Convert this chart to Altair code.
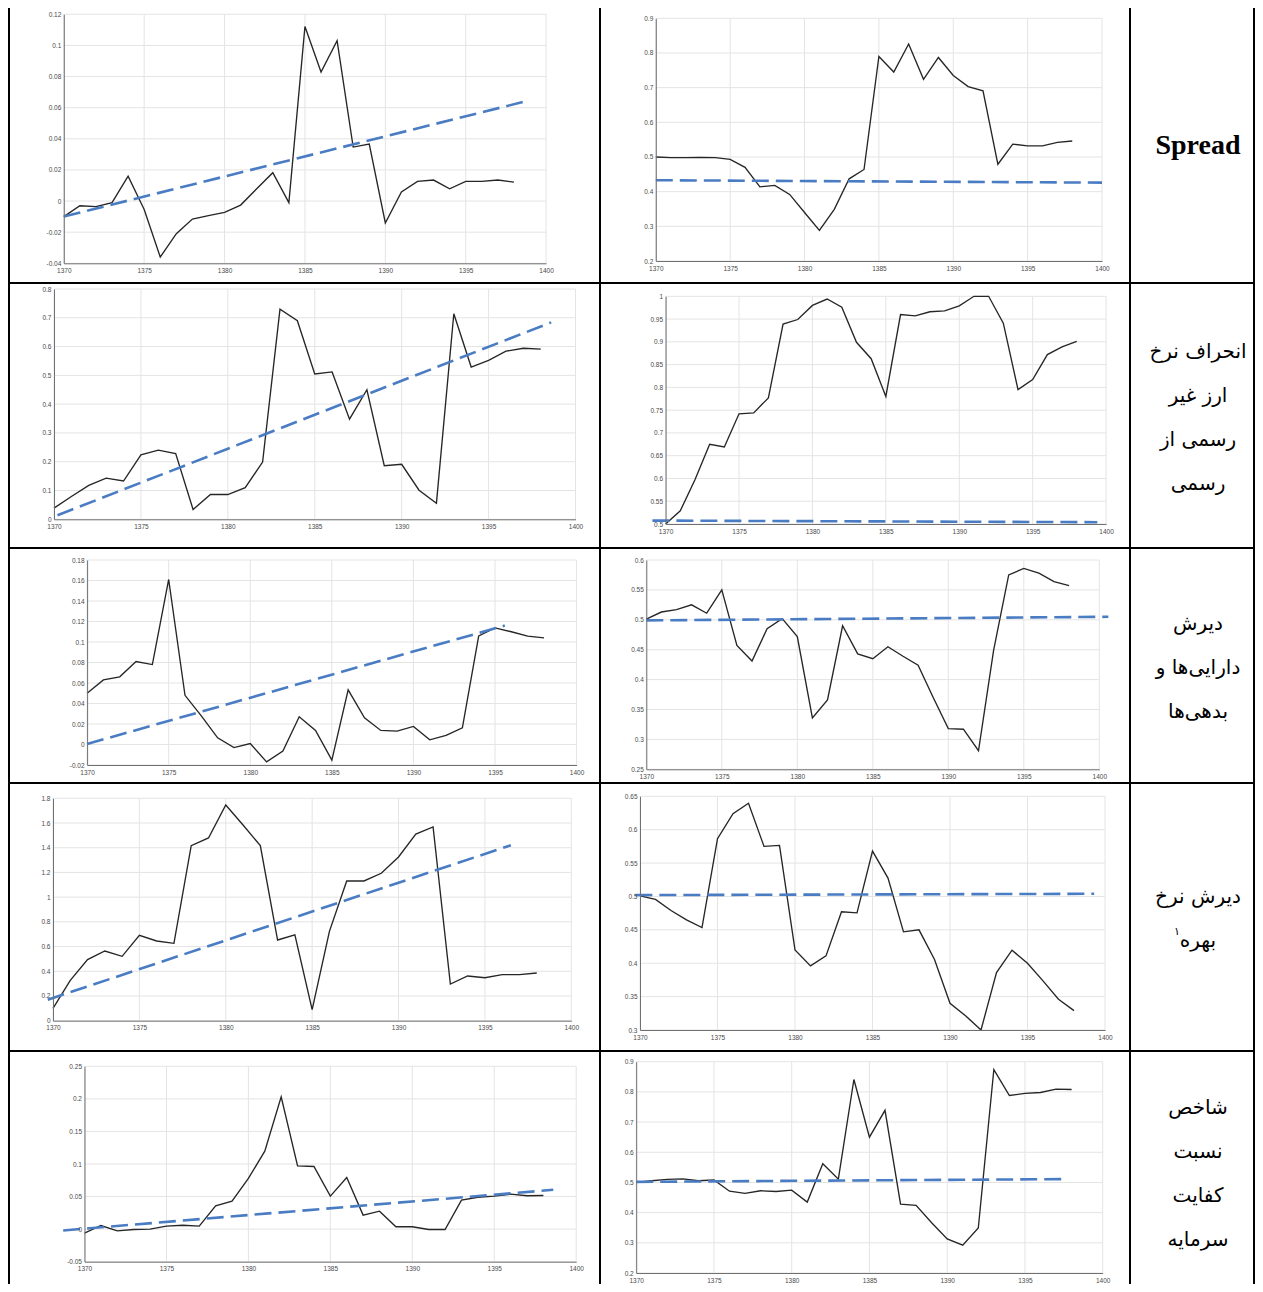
import altair as alt
import pandas as pd

# ---------------- data ----------------
years = [1370, 1371, 1372, 1373, 1374, 1375, 1376, 1377, 1378, 1379,
         1380, 1381, 1382, 1383, 1384, 1385, 1386, 1387, 1388, 1389,
         1390, 1391, 1392, 1393, 1394, 1395, 1396, 1397, 1398]

spread_left = [-0.010, -0.003, -0.0036, -0.001, 0.016, -0.0054, -0.036, -0.021, -0.0116, -0.0094,
               -0.0073, -0.0026, 0.0079, 0.0182, -0.001, 0.1122, 0.0829, 0.103, 0.0347, 0.0366,
               -0.0141, 0.0058, 0.0126, 0.0135, 0.0079, 0.0126, 0.0126, 0.0135, 0.0122]
spread_right = [0.500, 0.498, 0.498, 0.499, 0.498, 0.493, 0.470, 0.414, 0.418, 0.392,
                0.340, 0.288, 0.349, 0.437, 0.464, 0.790, 0.745, 0.826, 0.724, 0.787,
                0.735, 0.703, 0.691, 0.479, 0.537, 0.532, 0.532, 0.542, 0.546]
fx_left = [0.039, 0.079, 0.118, 0.143, 0.133, 0.224, 0.240, 0.228, 0.034, 0.086,
           0.086, 0.110, 0.199, 0.730, 0.690, 0.505, 0.512, 0.348, 0.450, 0.186,
           0.191, 0.101, 0.056, 0.714, 0.529, 0.552, 0.584, 0.594, 0.591]
fx_right = [0.500, 0.529, 0.597, 0.675, 0.669, 0.742, 0.744, 0.777, 0.939, 0.949,
            0.980, 0.994, 0.976, 0.899, 0.863, 0.780, 0.960, 0.957, 0.966, 0.968,
            0.979, 1.000, 1.000, 0.941, 0.795, 0.817, 0.872, 0.889, 0.901]
dur_left = [0.050, 0.063, 0.066, 0.081, 0.078, 0.161, 0.048, 0.028, 0.0065, -0.003,
            0.001, -0.017, -0.0065, 0.027, 0.0137, -0.0153, 0.0533, 0.026, 0.0137, 0.013,
            0.0176, 0.0046, 0.0088, 0.0163, 0.106, 0.1138, 0.110, 0.1057, 0.104]
dur_right = [0.501, 0.513, 0.517, 0.525, 0.511, 0.550, 0.457, 0.431, 0.485, 0.502,
             0.472, 0.336, 0.366, 0.490, 0.443, 0.435, 0.455, 0.439, 0.424, 0.370,
             0.318, 0.317, 0.281, 0.449, 0.575, 0.586, 0.578, 0.564, 0.557]
rate_left = [0.10, 0.327, 0.494, 0.564, 0.521, 0.691, 0.645, 0.626, 1.417, 1.479,
             1.746, 1.584, 1.417, 0.653, 0.694, 0.089, 0.723, 1.131, 1.131, 1.193,
             1.325, 1.511, 1.568, 0.297, 0.362, 0.348, 0.373, 0.373, 0.386]
rate_right = [0.501, 0.4955, 0.479, 0.465, 0.4535, 0.5865, 0.624, 0.6395, 0.575, 0.5765,
              0.420, 0.396, 0.411, 0.477, 0.4755, 0.568, 0.5275, 0.447, 0.450, 0.4055,
              0.340, 0.3215, 0.300, 0.386, 0.4195, 0.400, 0.3735, 0.346, 0.329]
car_left = [-0.006, 0.0056, -0.0026, -0.0005, 0.0, 0.0046, 0.006, 0.0046, 0.0358, 0.043,
            0.0778, 0.1198, 0.203, 0.0972, 0.0962, 0.0507, 0.0793, 0.0215, 0.0276, 0.0036,
            0.0036, -0.0005, -0.0005, 0.0445, 0.049, 0.0507, 0.0537, 0.0512, 0.0517]
car_right = [0.500, 0.5055, 0.510, 0.512, 0.5055, 0.508, 0.471, 0.464, 0.4724, 0.470,
             0.4746, 0.435, 0.562, 0.511, 0.841, 0.650, 0.739, 0.428, 0.424, 0.3665,
             0.313, 0.292, 0.349, 0.874, 0.788, 0.795, 0.798, 0.809, 0.808]

# trend lines (start / end points)
trend_spread_left_x, trend_spread_left_y = [1370.0, 1398.7], [-0.010, 0.064]
trend_spread_right_x, trend_spread_right_y = [1370.0, 1400.0], [0.433, 0.426]
trend_fx_left_x, trend_fx_left_y = [1370.2, 1398.6], [0.014, 0.684]
trend_fx_right_x, trend_fx_right_y = [1369.1, 1399.4], [0.5075, 0.504]
trend_dur_left_x, trend_dur_left_y = [1370.0, 1395.6], [0.0005, 0.116]
trend_dur_right_x, trend_dur_right_y = [1370.0, 1400.6], [0.499, 0.505]
trend_rate_left_x, trend_rate_left_y = [1369.7, 1396.5], [0.17, 1.42]
trend_rate_right_x, trend_rate_right_y = [1369.7, 1399.3], [0.502, 0.504]
trend_car_left_x, trend_car_left_y = [1368.7, 1398.6], [-0.002, 0.0604]
trend_car_right_x, trend_car_right_y = [1370.0, 1397.5], [0.502, 0.511]

x_ticks = [1370, 1375, 1380, 1385, 1390, 1395, 1400]
ticks_spread_left = [-0.04, -0.02, 0, 0.02, 0.04, 0.06, 0.08, 0.1, 0.12]
ticks_spread_right = [0.2, 0.3, 0.4, 0.5, 0.6, 0.7, 0.8, 0.9]
ticks_fx_left = [0, 0.1, 0.2, 0.3, 0.4, 0.5, 0.6, 0.7, 0.8]
ticks_fx_right = [0.5, 0.55, 0.6, 0.65, 0.7, 0.75, 0.8, 0.85, 0.9, 0.95, 1]
ticks_dur_left = [-0.02, 0, 0.02, 0.04, 0.06, 0.08, 0.1, 0.12, 0.14, 0.16, 0.18]
ticks_dur_right = [0.25, 0.3, 0.35, 0.4, 0.45, 0.5, 0.55, 0.6]
ticks_rate_left = [0, 0.2, 0.4, 0.6, 0.8, 1, 1.2, 1.4, 1.6, 1.8]
ticks_rate_right = [0.3, 0.35, 0.4, 0.45, 0.5, 0.55, 0.6, 0.65]
ticks_car_left = [-0.05, 0, 0.05, 0.1, 0.15, 0.2, 0.25]
ticks_car_right = [0.2, 0.3, 0.4, 0.5, 0.6, 0.7, 0.8, 0.9]

row_labels = [
    ["Spread"],
    ["انحراف نرخ", "ارز غیر", "رسمی از", "رسمی"],
    ["دیرش", "دارایی‌ها و", "بدهی‌ها"],
    ["دیرش نرخ", "بهره"],
    ["شاخص", "نسبت", "کفایت", "سرمایه"],
]
footnote_mark = "۱"

# ---------------- layout (page pixel coordinates) ----------------
W, H = 1247, 1276
PAGE = 8
# panel boxes: x of 1370, x of 1400, y of top tick, y of bottom tick
BOXES = [
    (63.8, 546.1, 14.3, 263.3), (655.8, 1102.0, 18.3, 261.0),
    (54.0, 575.5, 289.0, 519.3), (665.6, 1106.1, 296.3, 524.0),
    (87.1, 576.6, 560.0, 765.0), (646.3, 1099.3, 560.0, 769.3),
    (53.0, 571.3, 798.3, 1020.7), (640.0, 1105.0, 796.3, 1030.0),
    (84.5, 576.2, 1066.3, 1261.7), (636.2, 1102.7, 1061.7, 1273.0),
]
COL_X = [9, 600, 1130, 1262]
ROW_Y = [5, 283, 548, 783, 1051, 1292]
LINE_H = 44

LINE_COLOR = "#262626"
BLUE = "#4a7cc4"
GRID = "#e4e4e4"
AXIS = "#707070"
LABEL = "#4a4a4a"
TICK_FONT = "Liberation Sans"
DASH = [17, 7]


def panel(vals, tx, ty, yticks, box):
    x0, x1, yt, yb = (v - PAGE for v in box)
    ydom = [yticks[0], yticks[-1]]
    xs = alt.Scale(domain=[x_ticks[0], x_ticks[-1]], range=[x0, x1], nice=False, zero=False)
    ys = alt.Scale(domain=ydom, range=[yb, yt], nice=False, zero=False)
    vg = pd.DataFrame({"t": x_ticks, "lo": [ydom[0]] * len(x_ticks), "hi": [ydom[1]] * len(x_ticks)})
    hg = pd.DataFrame({"t": yticks, "lo": [x_ticks[0]] * len(yticks), "hi": [x_ticks[-1]] * len(yticks)})
    series = pd.DataFrame({"year": years, "value": vals})
    trend = pd.DataFrame({"year": tx, "value": ty})

    common = dict(grid=False, ticks=False, domainColor=AXIS, domainWidth=1,
                  labelFont=TICK_FONT, labelFontSize=6.5, labelColor=LABEL,
                  labelFlush=False, labelOverlap=False, title=None, zindex=1)
    xaxis = alt.Axis(orient="bottom", offset=yb - H, values=x_ticks, format="d",
                     labelPadding=4, **common)
    yaxis = alt.Axis(orient="left", offset=-x0, values=yticks,
                     labelExpr="'' + datum.value", labelPadding=3, **common)

    vgrid = alt.Chart(vg).mark_rule(color=GRID, strokeWidth=1).encode(
        x=alt.X("t:Q", scale=xs, axis=xaxis),
        y=alt.Y("lo:Q", scale=ys, axis=yaxis), y2="hi:Q")
    hgrid = alt.Chart(hg).mark_rule(color=GRID, strokeWidth=1).encode(
        y=alt.Y("t:Q", scale=ys, axis=yaxis),
        x=alt.X("lo:Q", scale=xs, axis=xaxis), x2="hi:Q")
    line = alt.Chart(series).mark_line(color=LINE_COLOR, strokeWidth=1.35).encode(
        x=alt.X("year:Q", scale=xs, axis=xaxis),
        y=alt.Y("value:Q", scale=ys, axis=yaxis))
    tl = alt.Chart(trend).mark_line(color=BLUE, strokeWidth=2.6, strokeDash=DASH).encode(
        x=alt.X("year:Q", scale=xs, axis=xaxis),
        y=alt.Y("value:Q", scale=ys, axis=yaxis))
    return alt.layer(vgrid, hgrid, line, tl)


panels = [
    panel(spread_left, trend_spread_left_x, trend_spread_left_y, ticks_spread_left, BOXES[0]),
    panel(spread_right, trend_spread_right_x, trend_spread_right_y, ticks_spread_right, BOXES[1]),
    panel(fx_left, trend_fx_left_x, trend_fx_left_y, ticks_fx_left, BOXES[2]),
    panel(fx_right, trend_fx_right_x, trend_fx_right_y, ticks_fx_right, BOXES[3]),
    panel(dur_left, trend_dur_left_x, trend_dur_left_y, ticks_dur_left, BOXES[4]),
    panel(dur_right, trend_dur_right_x, trend_dur_right_y, ticks_dur_right, BOXES[5]),
    panel(rate_left, trend_rate_left_x, trend_rate_left_y, ticks_rate_left, BOXES[6]),
    panel(rate_right, trend_rate_right_x, trend_rate_right_y, ticks_rate_right, BOXES[7]),
    panel(car_left, trend_car_left_x, trend_car_left_y, ticks_car_left, BOXES[8]),
    panel(car_right, trend_car_right_x, trend_car_right_y, ticks_car_right, BOXES[9]),
]

# table borders (the right-most one is kept inside the drawable area)
right_x = min(COL_X[-1] - PAGE, W - 1)
col_lines = [c - PAGE for c in COL_X[:-1]] + [right_x]
segs = []
for c in col_lines:
    segs.append({"x": c, "x2": c, "y": 0, "y2": H})
for ry in ROW_Y[1:-1]:
    segs.append({"x": COL_X[0] - PAGE, "x2": right_x, "y": ry - PAGE, "y2": ry - PAGE})
borders = alt.Chart(pd.DataFrame(segs)).mark_rule(color="black", strokeWidth=2).encode(
    x=alt.X("x:Q", scale=None, axis=None), x2="x2:Q",
    y=alt.Y("y:Q", scale=None, axis=None), y2="y2:Q")

one = pd.DataFrame({"k": [0]})
label_layers = []
cx = (COL_X[2] + COL_X[3]) / 2 + 2 - PAGE
for i, lines in enumerate(row_labels):
    cy = (ROW_Y[i] + ROW_Y[i + 1]) / 2 + 2 - PAGE
    if i == 0:
        mk = alt.Chart(one).mark_text(text=lines[0], font="Liberation Serif", fontWeight="bold",
                                      fontSize=28, align="center", baseline="middle", color="black")
        label_layers.append(mk.encode(x=alt.value(cx), y=alt.value(cy)))
    else:
        first_y = cy - (len(lines) - 1) * LINE_H / 2
        mk = alt.Chart(one).mark_text(text=lines, font="DejaVu Sans", fontSize=20, lineHeight=LINE_H,
                                      align="center", baseline="middle", color="black")
        label_layers.append(mk.encode(x=alt.value(cx), y=alt.value(first_y)))

# footnote marker after "بهره" (row 4, second line)
fn_cy = (ROW_Y[3] + ROW_Y[4]) / 2 + 2 - PAGE + LINE_H / 2 - 9
footnote = alt.Chart(one).mark_text(text=footnote_mark, font="DejaVu Sans", fontSize=11,
                                    align="center", baseline="middle", color="black").encode(
    x=alt.value(cx - 21), y=alt.value(fn_cy))

chart = alt.layer(borders, *label_layers, footnote, *panels).resolve_scale(
    x="independent", y="independent").resolve_axis(x="independent", y="independent").properties(
    width=W, height=H, padding=0, autosize=alt.AutoSizeParams(type="none"),
    background="white").configure_view(strokeWidth=0)

chart.save("out.html", embed_options={"renderer": "svg", "actions": False})
